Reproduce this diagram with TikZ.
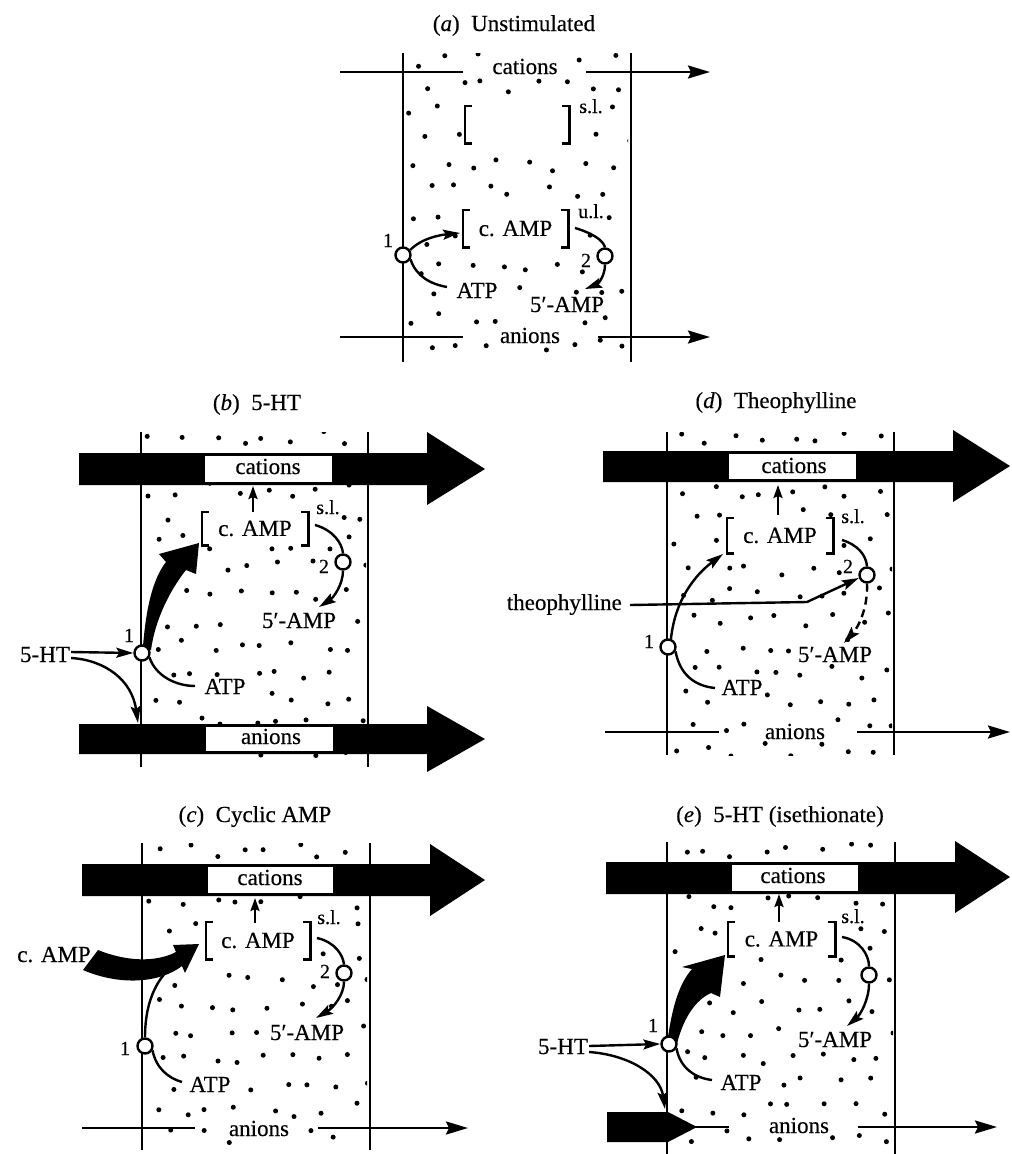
\documentclass[tikz,border=0pt]{standalone}
\usepackage{fontspec}
\setmainfont{Liberation Serif}[FakeBold=0.35]
\usetikzlibrary{arrows.meta}
\newif\ifkeepdot
\newcommand\mystipple[5]{%
  \foreach \i in {0,...,#3}{\foreach \j in {0,...,#4}{%
    \pgfmathsetmacro\px{#1+28*\i+14*mod(\j,2)+16*rnd-8}%
    \pgfmathsetmacro\py{#2+26*\j+14*rnd-7}%
    \global\keepdottrue
    \foreach \ax/\ay/\bx/\by in {#5}{%
      \pgfmathparse{and(and(\px>\ax,\px<\bx),and(\py>\ay,\py<\by))}%
      \ifdim\pgfmathresult pt>0.5pt\global\keepdotfalse\fi}%
    \ifkeepdot\fill (\px,\py) circle (2.5pt);\fi}}}
\newcommand\mybrackets[1]{%
  \draw[brkl] ([xshift=7pt]#1.north west) -- (#1.north west) -- (#1.south west) -- ([xshift=7pt]#1.south west);
  \draw[brkl] ([xshift=-7pt]#1.north east) -- (#1.north east) -- (#1.south east) -- ([xshift=-7pt]#1.south east);}
\begin{document}
\begin{tikzpicture}[x=1pt,y=-1pt,
  mem/.style={line width=2.4pt},
  ion/.style={line width=2.6pt},
  ionarrow/.style={ion,-{Stealth[length=22pt,width=13pt,inset=3pt]}},
  rx/.style={line width=2.4pt},
  rxa/.style={rx,-{Stealth[length=17pt,width=10pt,inset=3pt]}},
  upa/.style={line width=2.4pt,-{Stealth[length=13pt,width=9pt,inset=2pt]}},
  pore/.style={circle,draw,fill=white,line width=2.4pt,minimum size=15pt,inner sep=0pt},
  lbl/.style={font=\fontsize{23}{27}\selectfont,inner sep=1pt},
  sml/.style={font=\fontsize{20}{24}\selectfont,inner sep=1pt},
  ttl/.style={font=\fontsize{23}{27}\selectfont},
  brk/.style={fill=white,inner sep=0pt,font=\fontsize{23}{27}\selectfont},
  brkl/.style={line width=2.6pt},
  fat/.style={fill=black},
  box/.style={fill=white}]
\useasboundingbox (0,0) rectangle (1012,1154);

% ---------------- stippling ----------------
\begin{scope}\clip (406,53) rectangle (628,362); \pgfmathsetseed{11}
\mystipple{416}{60}{7}{11}{488/55/562/78, 496/324/564/347, 460/102/574/147, 576/95/606/117, 458/206/573/251, 576/200/606/222, 380/229/396/251, 578/249/594/271, 452/279/502/302, 525/293/609/316, 393/245/413/265, 595/246/615/266}\end{scope}
\begin{scope}\clip (144,432) rectangle (366,767); \pgfmathsetseed{23}
\mystipple{155}{438}{7}{12}{199/509/311/548, 313/496/343/518, 316/555/332/577, 257/609/341/632, 200/675/250/698, 132/643/152/663, 333/552/353/572, 143/600/158/655, 148/560/175/600, 160/540/200/578, 248/485/258/512}\end{scope}
\begin{scope}\clip (145,843) rectangle (367,1150); \pgfmathsetseed{37}
\mystipple{156}{850}{7}{11}{203/919/313/962, 314/906/344/928, 317/960/333/982, 265/1021/349/1044, 185/1073/235/1096, 225/1117/293/1140, 135/1036/155/1056, 334/963/354/983, 142/940/200/985, 250/896/260/923}\end{scope}
\begin{scope}\clip (670,432) rectangle (892,755); \pgfmathsetseed{41}
\mystipple{681}{438}{7}{12}{724/515/836/556, 838/505/868/527, 840/555/856/577, 793/643/877/666, 717/676/767/699, 761/720/829/743, 658/637/678/657, 857/565/877/585, 773/484/783/515}\end{scope}
\begin{scope}\clip (670,842) rectangle (893,1154); \pgfmathsetseed{53}
\mystipple{681}{850}{7}{11}{725/919/838/959, 838/905/868/927, 793/1028/877/1051, 716/1071/766/1094, 765/1114/833/1137, 659/1034/679/1054, 859/965/879/985, 667/990/695/1050, 680/952/727/1000, 774/893/784/922}\end{scope}

% ---------------- (a) Unstimulated ----------------
\node[ttl,anchor=base] (ta) at (514,31) {(\textit{a})\ \ Unstimulated};
\draw[mem] (403,53) -- (403,362);
\draw[mem] (631,53) -- (631,362);
\draw[ion] (340,72) -- (463,72);
\draw[ionarrow] (586,72) -- (710,72);
\draw[ion] (340,337) -- (463,337);
\draw[ionarrow] (598,337) -- (710,337);
\node[lbl,anchor=base] (cata) at (525,74) {cations};
\node[lbl,anchor=base] (ana) at (530,343) {anions};
\node[brk,minimum width=104pt,minimum height=37pt] (sla) at (517,124.5) {};
\mybrackets{sla}
\node[brk,minimum width=105pt,minimum height=37pt] (cAa) at (515.5,228.5) {c. AMP};
\mybrackets{cAa}
\node[sml,anchor=base] (sla-l) at (591,113) {s.l.};
\node[sml,anchor=base] (ula-l) at (591,218) {u.l.};
\node[sml,anchor=base] (n1a) at (388,247) {1};
\node[sml,anchor=base] (n2a) at (586,267) {2};
\node[lbl,anchor=base] (atpa) at (477,298) {ATP};
\node[lbl,anchor=base] (ampa) at (567,312) {5′-AMP};
\node[pore] (p1a) at (403,255) {};
\node[pore] (p2a) at (605,256) {};
\draw[rxa] (p1a.35) .. controls (422,238) and (440,235) .. (460,233);
\draw[rx] (p1a.-30) .. controls (416,276) and (430,284) .. (447,287);
\draw[rx] (575,228) .. controls (592,233) and (603,240) .. (p2a.north);
\draw[rxa] (p2a.south) .. controls (605,276) and (598,284) .. (585,289);

% ---------------- (b) 5-HT ----------------
\node[ttl,anchor=base] (tb) at (257,410) {(\textit{b})\ \ 5-HT};
\draw[mem] (141,432) -- (141,767);
\draw[mem] (368,432) -- (368,767);
\fill[fat] (79,453) -- (427,453) -- (427,432) -- (485,469) -- (427,505) -- (427,485) -- (79,485) -- cycle;
\fill[box] (205,456) rectangle (332,482);
\fill[fat] (79,724) -- (427,724) -- (427,706) -- (485,739) -- (427,772) -- (427,754) -- (79,754) -- cycle;
\fill[box] (206,727) rectangle (333,751);
\node[lbl,anchor=base] (catb) at (268,474) {cations};
\node[lbl,anchor=base] (anb) at (271,744) {anions};
\fill[fat] (143,646) .. controls (146,610) and (152,580) .. (166,562) -- (159,554) -- (199,543) -- (196,574) -- (186,570) .. controls (170,590) and (155,620) .. (151,650) -- cycle;
\node[brk,minimum width=106pt,minimum height=33pt] (cAb) at (255,528.5) {c. AMP};
\mybrackets{cAb}
\node[sml,anchor=base] (slb) at (328,514) {s.l.};
\node[sml,anchor=base] (n1b) at (129,642) {1};
\node[sml,anchor=base] (n2b) at (324,573) {2};
\node[lbl,anchor=base] (ampb) at (299,628) {5′-AMP};
\node[lbl,anchor=base] (atpb) at (225,694) {ATP};
\node[lbl,anchor=base] (htb) at (45,662) {5-HT};
\node[pore] (p1b) at (142,653) {};
\node[pore] (p2b) at (343,562) {};
\draw[upa] (253,512) -- (253,486);
\draw[rx] (315,525) .. controls (333,530) and (342,543) .. (p2b.north);
\draw[rxa] (p2b.south) .. controls (343,585) and (333,598) .. (319,607);
\draw[rx] (p1b.-30) .. controls (155,675) and (175,686) .. (195,686);
\draw[rxa] (htb.east |- 0,652) -- (p1b.west);
\draw[rxa] (htb.east |- 0,658) .. controls (105,660) and (132,680) .. (138,723);

% ---------------- (c) Cyclic AMP ----------------
\node[ttl,anchor=base] (tc) at (255,822) {(\textit{c})\ \ Cyclic AMP};
\draw[mem] (142,843) -- (142,1150);
\draw[mem] (370,843) -- (370,1150);
\fill[fat] (82,864) -- (430,864) -- (430,844) -- (485,880) -- (430,916) -- (430,896) -- (82,896) -- cycle;
\fill[box] (208,867) rectangle (333,893);
\node[lbl,anchor=base] (catc) at (270,885) {cations};
\draw[ion] (82,1128) -- (195,1128);
\draw[ionarrow] (318,1128) -- (468,1128);
\node[lbl,anchor=base] (anc) at (259,1136) {anions};
\node[brk,minimum width=104pt,minimum height=37pt] (cAc) at (258,940.5) {c. AMP};
\mybrackets{cAc}
\node[sml,anchor=base] (slc) at (329,924) {s.l.};
\node[sml,anchor=base] (n1c) at (125,1055) {1};
\node[sml,anchor=base] (n2c) at (325,978) {2};
\node[lbl,anchor=base] (ampc) at (307,1040) {5′-AMP};
\node[lbl,anchor=base] (atpc) at (210,1092) {ATP};
\node[lbl,anchor=base] (extc) at (54,962) {c. AMP};
\node[pore] (p1c) at (145,1046) {};
\node[pore] (p2c) at (344,973) {};
\draw[rx] (p1c.north) .. controls (145,1010) and (152,985) .. (170,968);
\fill[fat] (98,950) .. controls (125,961) and (155,963) .. (176,952) -- (173,945) -- (199,944) -- (185,973) -- (182,966) .. controls (160,983) and (120,986) .. (83,970) -- cycle;
\draw[upa] (255,923) -- (255,898);
\draw[rx] (p1c.-30) .. controls (156,1068) and (168,1078) .. (182,1082);
\draw[rx] (317,938) .. controls (335,942) and (343,955) .. (p2c.north);
\draw[rxa] (p2c.south) .. controls (344,995) and (333,1008) .. (316,1018);

% ---------------- (d) Theophylline ----------------
\node[ttl,anchor=base] (td) at (776,408) {(\textit{d})\ \ Theophylline};
\draw[mem] (667,432) -- (667,755);
\draw[mem] (894,432) -- (894,755);
\fill[fat] (603,451) -- (953,451) -- (953,430) -- (1010,466) -- (953,502) -- (953,482) -- (603,482) -- cycle;
\fill[box] (729,454) rectangle (856,479);
\node[lbl,anchor=base] (catd) at (794,473) {cations};
\draw[ion] (605,732) -- (719,732);
\draw[ionarrow] (857,732) -- (1010,732);
\node[lbl,anchor=base] (and) at (795,739) {anions};
\node[brk,minimum width=106pt,minimum height=35pt] (cAd) at (780,535.5) {c. AMP};
\mybrackets{cAd}
\node[sml,anchor=base] (sld) at (853,523) {s.l.};
\node[sml,anchor=base] (n1d) at (649,648) {1};
\node[sml,anchor=base] (n2d) at (848,573) {2};
\node[lbl,anchor=base] (ampd) at (835,662) {5′-AMP};
\node[lbl,anchor=base] (atpd) at (742,695) {ATP};
\node[lbl,anchor=base east] (thd) at (623,610) {theophylline};
\node[pore] (p1d) at (668,647) {};
\node[pore] (p2d) at (867,575) {};
\draw[upa] (778,515) -- (778,485);
\draw[rxa] (p1d.70) .. controls (675,600) and (695,575) .. (723,554);
\draw[rx] (p1d.-30) .. controls (680,675) and (695,686) .. (715,688);
\draw[rx] (842,540) .. controls (858,545) and (866,555) .. (p2d.north);
\draw[rxa,dash pattern=on 8pt off 5pt] (p2d.south) .. controls (868,605) and (860,625) .. (844,643);
\draw[rxa] (630,605) -- (807,602) -- (p2d.200);

% ---------------- (e) 5-HT (isethionate) ----------------
\node[ttl,anchor=base] (te) at (780,822) {(\textit{e})\ \ 5-HT (isethionate)};
\draw[mem] (667,842) -- (667,1154);
\draw[mem] (895,842) -- (895,1154);
\fill[fat] (606,862) -- (955,862) -- (955,841) -- (1010,877) -- (955,913) -- (955,894) -- (606,894) -- cycle;
\fill[box] (732,865) rectangle (858,891);
\node[lbl,anchor=base] (cate) at (793,883) {cations};
\fill[fat] (607,1112) -- (668,1112) -- (697,1127) -- (668,1142) -- (607,1142) -- cycle;
\draw[ion] (690,1127) -- (729,1127);
\draw[ionarrow] (858,1127) -- (997,1127);
\node[lbl,anchor=base] (ane) at (799,1133) {anions};
\fill[fat] (668,1037) .. controls (672,1010) and (678,985) .. (692,969) -- (682,967) -- (725,955) -- (720,997) -- (711,993) .. controls (695,1000) and (682,1020) .. (676,1048) -- cycle;
\node[brk,minimum width=107pt,minimum height=34pt] (cAe) at (781.5,939) {c. AMP};
\mybrackets{cAe}
\node[sml,anchor=base] (sle) at (853,923) {s.l.};
\node[sml,anchor=base] (n1e) at (653,1032) {1};
\node[lbl,anchor=base] (ampe) at (835,1047) {5′-AMP};
\node[lbl,anchor=base] (atpe) at (741,1090) {ATP};
\node[lbl,anchor=base] (hte) at (563,1054) {5-HT};
\node[pore] (p1e) at (669,1044) {};
\node[pore] (p2e) at (869,975) {};
\draw[upa] (779,922) -- (779,894);
\draw[rx] (p1e.-30) .. controls (680,1068) and (695,1078) .. (712,1080);
\draw[rx] (842,937) .. controls (860,940) and (869,955) .. (p2e.north);
\draw[rxa] (p2e.south) .. controls (869,1000) and (860,1015) .. (847,1026);
\draw[rxa] (hte.east |- 0,1046) -- (p1e.west);
\draw[rxa] (hte.east |- 0,1052) .. controls (630,1055) and (660,1075) .. (665,1109);
\end{tikzpicture}
\end{document}
